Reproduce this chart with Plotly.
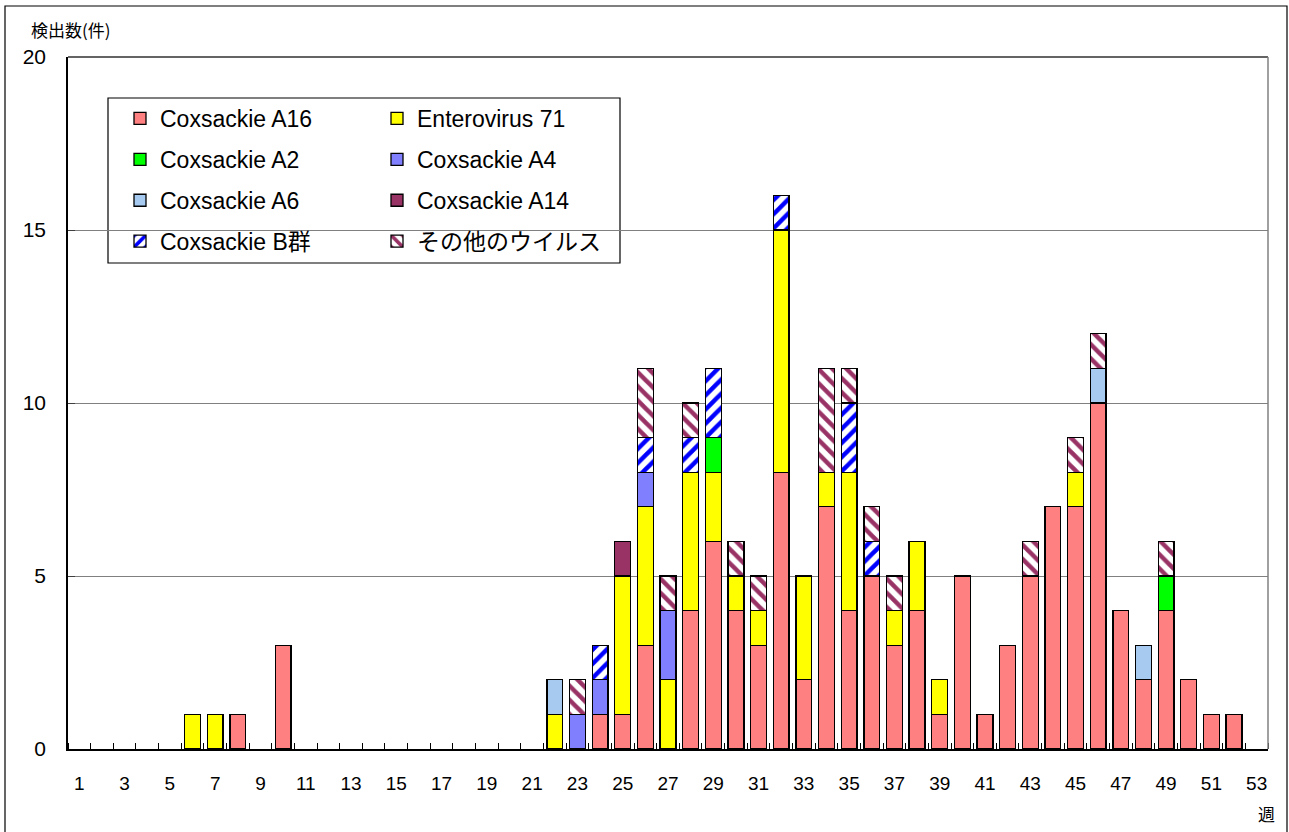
import plotly.graph_objects as go

weeks = list(range(1, 54))
tick_weeks = list(range(1, 54, 2))
tick_labels = [str(w) for w in tick_weeks]

series_names = ["Coxsackie A16", "Enterovirus 71", "Coxsackie A2", "Coxsackie A4",
                "Coxsackie A6", "Coxsackie A14", "Coxsackie B群", "その他のウイルス"]

# counts per week (weeks 1..53)
coxa16 = [0, 0, 0, 0, 0, 0, 0, 1, 0, 3,
          0, 0, 0, 0, 0, 0, 0, 0, 0, 0,
          0, 0, 0, 1, 1, 3, 0, 4, 6, 4,
          3, 8, 2, 7, 4, 5, 3, 4, 1, 5,
          1, 3, 5, 7, 7, 10, 4, 2, 4, 2,
          1, 1, 0]
ev71 = [0, 0, 0, 0, 0, 1, 1, 0, 0, 0,
        0, 0, 0, 0, 0, 0, 0, 0, 0, 0,
        0, 1, 0, 0, 4, 4, 2, 4, 2, 1,
        1, 7, 3, 1, 4, 0, 1, 2, 1, 0,
        0, 0, 0, 0, 1, 0, 0, 0, 0, 0,
        0, 0, 0]
coxa2 = [0, 0, 0, 0, 0, 0, 0, 0, 0, 0,
         0, 0, 0, 0, 0, 0, 0, 0, 0, 0,
         0, 0, 0, 0, 0, 0, 0, 0, 1, 0,
         0, 0, 0, 0, 0, 0, 0, 0, 0, 0,
         0, 0, 0, 0, 0, 0, 0, 0, 1, 0,
         0, 0, 0]
coxa4 = [0, 0, 0, 0, 0, 0, 0, 0, 0, 0,
         0, 0, 0, 0, 0, 0, 0, 0, 0, 0,
         0, 0, 1, 1, 0, 1, 2, 0, 0, 0,
         0, 0, 0, 0, 0, 0, 0, 0, 0, 0,
         0, 0, 0, 0, 0, 0, 0, 0, 0, 0,
         0, 0, 0]
coxa6 = [0, 0, 0, 0, 0, 0, 0, 0, 0, 0,
         0, 0, 0, 0, 0, 0, 0, 0, 0, 0,
         0, 1, 0, 0, 0, 0, 0, 0, 0, 0,
         0, 0, 0, 0, 0, 0, 0, 0, 0, 0,
         0, 0, 0, 0, 0, 1, 0, 1, 0, 0,
         0, 0, 0]
coxa14 = [0, 0, 0, 0, 0, 0, 0, 0, 0, 0,
          0, 0, 0, 0, 0, 0, 0, 0, 0, 0,
          0, 0, 0, 0, 1, 0, 0, 0, 0, 0,
          0, 0, 0, 0, 0, 0, 0, 0, 0, 0,
          0, 0, 0, 0, 0, 0, 0, 0, 0, 0,
          0, 0, 0]
coxb = [0, 0, 0, 0, 0, 0, 0, 0, 0, 0,
        0, 0, 0, 0, 0, 0, 0, 0, 0, 0,
        0, 0, 0, 1, 0, 1, 0, 1, 2, 0,
        0, 1, 0, 0, 2, 1, 0, 0, 0, 0,
        0, 0, 0, 0, 0, 0, 0, 0, 0, 0,
        0, 0, 0]
others = [0, 0, 0, 0, 0, 0, 0, 0, 0, 0,
          0, 0, 0, 0, 0, 0, 0, 0, 0, 0,
          0, 0, 1, 0, 0, 2, 1, 1, 0, 1,
          1, 0, 0, 3, 1, 1, 1, 0, 0, 0,
          0, 0, 1, 0, 1, 1, 0, 0, 1, 0,
          0, 0, 0]

all_series = [coxa16, ev71, coxa2, coxa4, coxa6, coxa14, coxb, others]
colors = ["#FF8080", "#FFFF00", "#00FF00", "#8080FF", "#A6CAF0", "#993366", "#0000FF", "#993366"]
patterns = [None, None, None, None, None, None, "/", "\\"]
legend_ids = ["legend", "legend2", "legend", "legend2", "legend", "legend2", "legend", "legend2"]

FONT = "Liberation Sans, Arial, Noto Sans CJK JP, sans-serif"

fig = go.Figure()
for i, (name, vals) in enumerate(zip(series_names, all_series)):
    y = [v if v else None for v in vals]
    if patterns[i] is None:
        marker = dict(color=colors[i], line=dict(color="black", width=1.3))
    else:
        marker = dict(color="white", line=dict(color="black", width=1.3),
                      pattern=dict(shape=patterns[i], fgcolor=colors[i], bgcolor="white",
                                   fgopacity=1, size=10, solidity=0.45, fillmode="overlay"))
    fig.add_trace(go.Bar(x=weeks, y=y, name=name, marker=marker, width=0.7,
                         legend=legend_ids[i], legendgroup=name, hoverinfo="x+y+name"))

# plot area: x 68..1268, y 57..749 ; height 692
def px_x(p):
    return (p - 68) / 1200.0

def px_y(p):
    return (749 - p) / 692.0

fig.update_layout(
    width=1289, height=832,
    margin=dict(l=68, r=21, t=57, b=83),
    barmode="stack",
    paper_bgcolor="white", plot_bgcolor="white",
    font=dict(family=FONT, size=18, color="black"),
    showlegend=True,
    legend=dict(x=px_x(120), y=px_y(97), xanchor="left", yanchor="top",
                bgcolor="rgba(0,0,0,0)", borderwidth=0, traceorder="grouped",
                tracegroupgap=8, font=dict(size=23, family=FONT)),
    legend2=dict(x=px_x(377), y=px_y(97), xanchor="left", yanchor="top",
                 bgcolor="rgba(0,0,0,0)", borderwidth=0, traceorder="grouped",
                 tracegroupgap=8, font=dict(size=23, family=FONT)),
    xaxis=dict(range=[0.5, 53.5], tickmode="array", tickvals=tick_weeks, ticktext=tick_labels,
               ticks="", showgrid=False, showline=True, linecolor="black", linewidth=1.5,
               mirror=False, zeroline=False, ticklabelstandoff=16,
               tickfont=dict(size=19, family=FONT),
               minor=dict(ticks="inside", tickmode="linear", tick0=0.5, dtick=1, ticklen=6,
                          tickcolor="black", tickwidth=1, showgrid=False)),
    yaxis=dict(range=[0, 20], tickmode="linear", tick0=0, dtick=5, showgrid=True,
               gridcolor="#808080", gridwidth=1, showline=True, linecolor="black", linewidth=1.5,
               mirror=False, zeroline=False, ticks="inside", ticklen=7, tickcolor="#404040",
               ticklabelstandoff=16, tickfont=dict(size=21, family=FONT)),
    shapes=[
        # plot area frame (top/right)
        dict(type="line", xref="paper", yref="paper", x0=0, x1=1, y0=1, y1=1,
             line=dict(color="#303030", width=1.5)),
        dict(type="line", xref="paper", yref="paper", x0=1, x1=1, y0=0, y1=1,
             line=dict(color="#808080", width=1.5)),
        # outer chart border
        dict(type="rect", xref="paper", yref="paper", x0=px_x(5), x1=px_x(1287),
             y0=px_y(840), y1=px_y(6), line=dict(color="black", width=1.2), layer="below"),
        # legend box
        dict(type="rect", xref="paper", yref="paper", x0=px_x(108), x1=px_x(620),
             y0=px_y(263), y1=px_y(98), line=dict(color="black", width=1.2),
             fillcolor="white", layer="below"),
    ],
    annotations=[
        dict(text="検出数(件)", xref="paper", yref="paper", x=px_x(29), y=px_y(29),
             xanchor="left", yanchor="middle", showarrow=False,
             font=dict(size=17, family="Noto Sans CJK JP, sans-serif")),
        dict(text="週", xref="paper", yref="paper", x=px_x(1266), y=px_y(813),
             xanchor="center", yanchor="middle", showarrow=False,
             font=dict(size=17, family="Noto Sans CJK JP, sans-serif")),
    ],
)

fig.write_html("out.html", config={"displayModeBar": False},
               post_script="document.body.style.margin='0';")
